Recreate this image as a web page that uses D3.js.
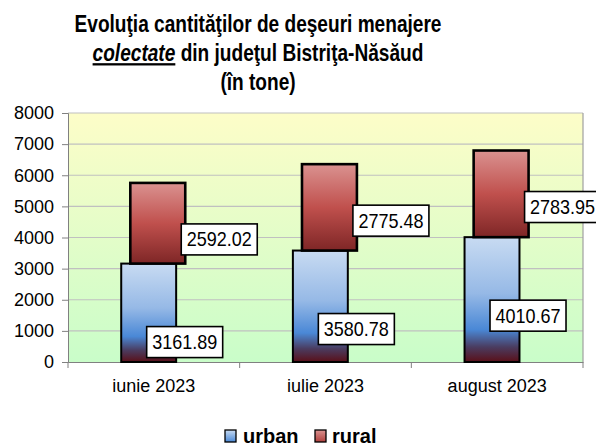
<!DOCTYPE html>
<html><head><meta charset="utf-8">
<script src="https://cdn.jsdelivr.net/npm/d3@7"></script>
<style>body{margin:0;background:#fff}svg{display:block;font-family:"Liberation Sans",Arial,sans-serif}</style>
</head><body>
<script>
const categories = ["iunie 2023", "iulie 2023", "august 2023"];
const urban = [3161.89, 3580.78, 4010.67];
const rural = [2592.02, 2775.48, 2783.95];
const seriesNames = ["urban", "rural"];
const yTicks = [0, 1000, 2000, 3000, 4000, 5000, 6000, 7000, 8000];
const titleLine1 = "Evoluţia cantităţilor de deşeuri menajere";
const titleLine2a = "colectate";
const titleLine2b = " din judeţul Bistriţa-Năsăud";
const titleLine3 = "(în tone)";

(function(){
const W = 596, H = 446;
const svg = d3.select("body").append("svg").attr("width", W).attr("height", H);
const defs = svg.append("defs");

const bg = defs.append("linearGradient").attr("id","bg").attr("x1",0).attr("y1",0).attr("x2",0).attr("y2",1);
bg.append("stop").attr("offset","0%").attr("stop-color","#fdfdc8");
bg.append("stop").attr("offset","100%").attr("stop-color","#c9fdc9");

const gu = defs.append("linearGradient").attr("id","gu").attr("x1",0).attr("y1",0).attr("x2",0).attr("y2",1);
gu.append("stop").attr("offset","0%").attr("stop-color","#c8dbf2");
gu.append("stop").attr("offset","45%").attr("stop-color","#96b9e6");
gu.append("stop").attr("offset","74%").attr("stop-color","#4a88d6");
gu.append("stop").attr("offset","88%").attr("stop-color","#4a3c60");
gu.append("stop").attr("offset","100%").attr("stop-color","#5a0f18");

const gr = defs.append("linearGradient").attr("id","gr").attr("x1",0).attr("y1",0).attr("x2",0).attr("y2",1);
gr.append("stop").attr("offset","0%").attr("stop-color","#da9290");
gr.append("stop").attr("offset","50%").attr("stop-color","#c0504d");
gr.append("stop").attr("offset","100%").attr("stop-color","#7e2626");

const pL = 68, pR = 583, pT = 113, pB = 362;
const x = d3.scaleBand().domain(categories).range([pL, pR]).paddingInner(0).paddingOuter(0);
const y = d3.scaleLinear().domain([0, 8000]).range([pB, pT]);
const bw = x.bandwidth();
const barW = bw * 0.32;

svg.append("rect").attr("x", pL).attr("y", pT).attr("width", pR-pL).attr("height", pB-pT)
  .attr("fill","url(#bg)");
svg.append("g").selectAll("line").data(yTicks.filter(d=>d>0)).join("line")
  .attr("x1", pL).attr("x2", pR).attr("y1", d=>y(d)).attr("y2", d=>y(d))
  .attr("stroke","#c0c0c0").attr("stroke-width",1.2);
svg.append("line").attr("x1",pR).attr("x2",pR).attr("y1",pT).attr("y2",pB)
  .attr("stroke","#a0a0a0").attr("stroke-width",1.2);

const yAxis = svg.append("g").attr("transform",`translate(${pL},0)`)
  .call(d3.axisLeft(y).tickValues(yTicks).tickSize(6).tickPadding(8).tickFormat(d3.format("d")));
yAxis.select(".domain").attr("stroke","#808080");
yAxis.selectAll(".tick line").attr("stroke","#808080");
yAxis.selectAll("text").attr("font-size",18).attr("fill","#000").attr("font-family","Liberation Sans, Arial");

const xAxis = svg.append("g").attr("transform",`translate(0,${pB})`)
  .call(d3.axisBottom(x).tickSize(0).tickPadding(17));
xAxis.select(".domain").attr("stroke","#808080");
xAxis.selectAll("text").attr("font-size",18).attr("fill","#000").attr("font-family","Liberation Sans, Arial");
svg.append("g").selectAll("line").data(d3.range(categories.length+1)).join("line")
  .attr("x1", i=>pL + i*bw).attr("x2", i=>pL + i*bw).attr("y1", pB).attr("y2", pB+6)
  .attr("stroke","#808080");

const data = categories.map((c,i)=>({c, u: urban[i], r: rural[i]}));
const uX = d => x(d.c) + bw*0.31;
const rX = d => x(d.c) + bw*0.363;

svg.append("g").selectAll("rect").data(data).join("rect")
  .attr("x", uX).attr("width", barW)
  .attr("y", d=>y(d.u)).attr("height", d=>y(0)-y(d.u))
  .attr("fill","url(#gu)").attr("stroke","#000").attr("stroke-width",2);

svg.append("g").selectAll("rect").data(data).join("rect")
  .attr("x", rX).attr("width", barW)
  .attr("y", d=>y(d.u+d.r)).attr("height", d=>y(d.u)-y(d.u+d.r))
  .attr("fill","url(#gr)").attr("stroke","#000").attr("stroke-width",2.6);

const boxW = 76, boxH = 31;
function label(g, bx, by, txt){
  g.append("rect").attr("x",bx).attr("y",by).attr("width",boxW).attr("height",boxH)
    .attr("fill","#fff").attr("stroke","#000").attr("stroke-width",1.6);
  g.append("text").attr("transform",`translate(${bx+boxW/2},${by+boxH/2+7}) scale(0.9,1)`)
    .attr("text-anchor","middle").attr("font-size",20).attr("fill","#000").text(txt);
}
const lg = svg.append("g");
data.forEach(d=>{
  label(lg, rX(d)+barW-4, y(d.u+d.r)+41, d3.format(".2f")(d.r));
  label(lg, uX(d)+barW/2-2, y(d.u)+63, d3.format(".2f")(d.u));
});

const tg = svg.append("g").attr("font-weight","bold").attr("fill","#000");
function tline(yb, builder){
  const t = tg.append("text").attr("transform",`translate(258,${yb}) scale(0.83,1)`)
    .attr("text-anchor","middle").attr("font-size",23);
  builder(t);
}
tline(32, t=>t.text(titleLine1));
tline(61, t=>{
  t.append("tspan").attr("font-style","italic").attr("text-decoration","underline").text(titleLine2a);
  t.append("tspan").text(titleLine2b);
});
tline(90, t=>t.text(titleLine3));

const lgu = defs.append("linearGradient").attr("id","lgu").attr("x1",0).attr("y1",0).attr("x2",0).attr("y2",1);
lgu.append("stop").attr("offset","0%").attr("stop-color","#c8dbf2");
lgu.append("stop").attr("offset","100%").attr("stop-color","#4a88d6");
const lgr = defs.append("linearGradient").attr("id","lgr").attr("x1",0).attr("y1",0).attr("x2",0).attr("y2",1);
lgr.append("stop").attr("offset","0%").attr("stop-color","#da9290");
lgr.append("stop").attr("offset","100%").attr("stop-color","#b0403d");
const legItems = [
  {name: seriesNames[0], fill: "url(#lgu)", sx: 225, tx: 243},
  {name: seriesNames[1], fill: "url(#lgr)", sx: 315, tx: 332}
];
const leg = svg.append("g");
legItems.forEach(it=>{
  leg.append("rect").attr("x",it.sx).attr("y",430).attr("width",11).attr("height",12)
    .attr("fill",it.fill).attr("stroke","#000").attr("stroke-width",1.3);
  leg.append("text").attr("x",it.tx).attr("y",443).attr("font-size",20).attr("font-weight","bold")
    .attr("fill","#000").text(it.name);
});
})();
</script>
</body></html>
